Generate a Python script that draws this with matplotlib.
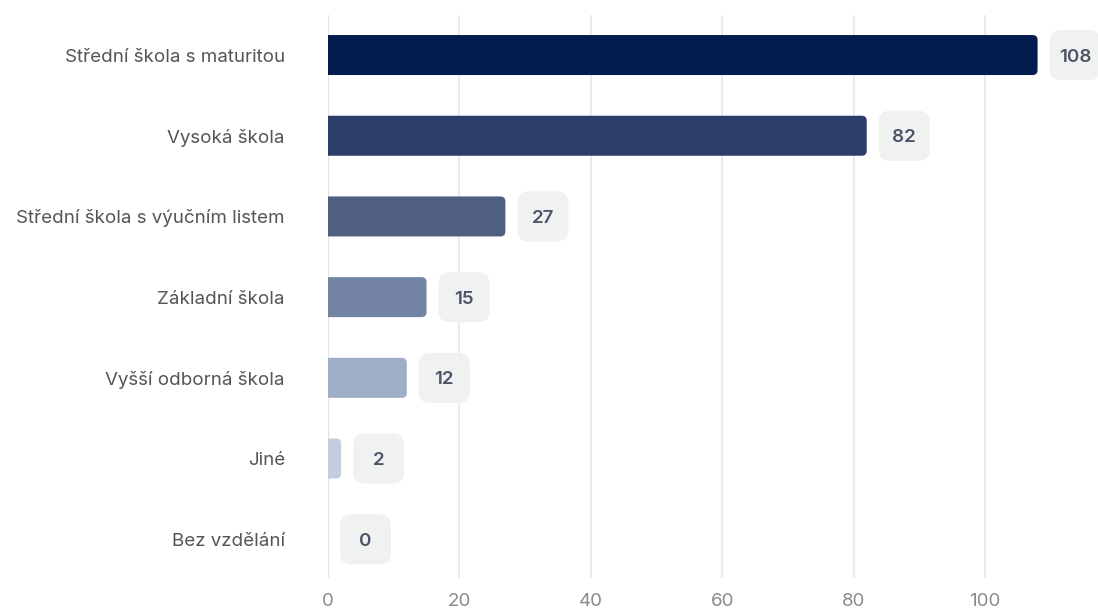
import matplotlib.pyplot as plt
from matplotlib.patches import FancyBboxPatch

categories = ['Střední škola s maturitou', 'Vysoká škola', 'Střední škola s výučním listem',
              'Základní škola', 'Vyšší odborná škola', 'Jiné', 'Bez vzdělání']
values = [108, 82, 27, 15, 12, 2, 0]
colors = ['#021c50', '#2b3d6a', '#4f5f82', '#7384a4', '#9eaec7', '#c2cee0', '#dde4ef']
xticks = [0, 20, 40, 60, 80, 100]

plt.rcParams['font.family'] = ['Inter', 'DejaVu Sans']

fig = plt.figure(figsize=(10.98, 6.10), dpi=100)
ax = fig.add_axes([328 / 1098, 1 - 578 / 610, 1 - 328 / 1098, (578 - 15) / 610])

xmax = (1098 - 328) / 6.57
ax.set_xlim(0, xmax)
ax.set_ylim(6.48, -0.496)

# pixel -> data unit conversions
px_x = xmax / (1098 - 328)
px_y = (6.48 + 0.496) / (578 - 15)
aspect = px_y / px_x

bar_h = 40 * px_y
for i, (v, c) in enumerate(zip(values, colors)):
    if v > 0:
        r = 5 * px_x
        # start left of zero so the left corners get clipped away by the axes
        ax.add_patch(FancyBboxPatch((-3 * r, i - bar_h / 2), v + 3 * r, bar_h,
                                    boxstyle='round,pad=0,rounding_size=%f' % r,
                                    mutation_aspect=aspect, fc=c, ec='none', zorder=3))
    # value badge
    bx = v + 12 * px_x
    bw = 51 * px_x
    bh = 50 * px_y
    ax.add_patch(FancyBboxPatch((bx, i - bh / 2), bw, bh,
                                boxstyle='round,pad=0,rounding_size=%f' % (11 * px_x),
                                mutation_aspect=aspect, fc='#f0f1f1', ec='none',
                                zorder=3, clip_on=False))
    ax.text(bx + bw / 2, i, str(v), ha='center', va='center_baseline', fontsize=13.5,
            fontweight='semibold', color='#4b5567', zorder=4)

ax.set_yticks(range(len(categories)))
ax.set_yticklabels(categories, fontsize=13.5, color='#555555')
ax.set_xticks(xticks)
ax.set_xticklabels([str(t) for t in xticks], fontsize=13.5, color='#8a8a8a')
ax.tick_params(axis='y', length=0, pad=31)
ax.tick_params(axis='x', length=0, pad=11)

ax.grid(axis='x', color='#e6e7eb', linewidth=1.2, zorder=0)
ax.axvline(0, color='#c9d5ea', linewidth=1.5, zorder=1)
for s in ax.spines.values():
    s.set_visible(False)

fig.savefig('out.png', dpi=100)
